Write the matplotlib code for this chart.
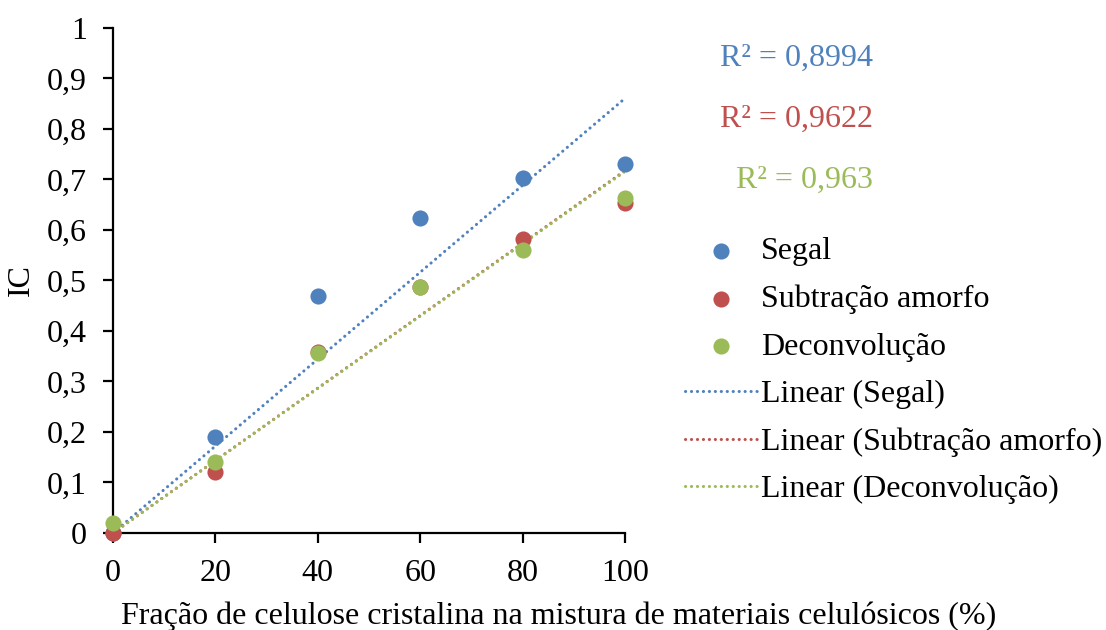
import numpy as np
import matplotlib.pyplot as plt

plt.rcParams['font.family'] = ['Liberation Serif', 'DejaVu Serif']

# data
fracao = [0, 20, 40, 60, 80, 100]
segal = [0.0, 0.19, 0.469, 0.624, 0.703, 0.731]
subtracao = [0.0, 0.121, 0.358, 0.487, 0.582, 0.653]
deconv = [0.02, 0.141, 0.356, 0.487, 0.561, 0.663]
nomes = ['Segal', 'Subtração amorfo', 'Deconvolução']
r2_textos = ['R² = 0,8994', 'R² = 0,9622', 'R² = 0,963']
cores = ['#4F81BD', '#C0504D', '#9BBB59']

fs = 23

fig = plt.figure(figsize=(11.06, 6.3), dpi=100)
ax = fig.add_axes([0.1022, 0.154, 0.4629, 0.8016])

x = np.asarray(fracao, dtype=float)
pontos = []
linhas = []
for serie, nome, cor in zip([segal, subtracao, deconv], nomes, cores):
    y = np.asarray(serie)
    # trend line forced through the origin, like excel does here
    incl = np.sum(x * y) / np.sum(x * x)
    xl = np.array([0, 100])
    ln, = ax.plot(xl, incl * xl, color=cor, lw=2.2, linestyle=(0, (0.05, 1.9)),
                  dash_capstyle='round', zorder=2, label='Linear (%s)' % nome)
    linhas.append(ln)
for serie, nome, cor in zip([segal, subtracao, deconv], nomes, cores):
    sc = ax.scatter(fracao, serie, s=135, color=cor, zorder=3, label=nome,
                    clip_on=False, linewidths=0)
    pontos.append(sc)

ax.set_xlim(0, 100)
ax.set_ylim(0, 1)
ax.set_xticks(np.arange(0, 101, 20))
ax.set_yticks(np.arange(0, 1.01, 0.1))
ax.set_yticklabels(['0' if v == 0 else ('1' if v == 1 else ('%.1f' % v).replace('.', ','))
                    for v in np.arange(0, 1.01, 0.1)])
for s in ['top', 'right']:
    ax.spines[s].set_visible(False)
for s in ['left', 'bottom']:
    ax.spines[s].set_linewidth(1.6)
ax.tick_params(direction='out', length=7, width=1.6, labelsize=fs)
ax.tick_params(axis='y', pad=12)
ax.tick_params(axis='x', pad=12)

ax.set_ylabel('IC', fontsize=fs, labelpad=8)
fig.text(0.505, 0.022, 'Fração de celulose cristalina na mistura de materiais celulósicos (%)',
         fontsize=fs, ha='center', va='center')

ys = [0.908, 0.810, 0.713]
for txt, cor, yy in zip(r2_textos, cores, ys):
    fig.text(0.789, yy, txt, color=cor, fontsize=fs, ha='right', va='center')

fig.legend(handles=pontos + linhas, loc='upper left', bbox_to_anchor=(0.619, 0.624),
           frameon=False, fontsize=fs, handlelength=2.3, handletextpad=0.1,
           labelspacing=0.57, borderpad=0, borderaxespad=0, markerscale=1)

fig.savefig('out.png', dpi=100)
